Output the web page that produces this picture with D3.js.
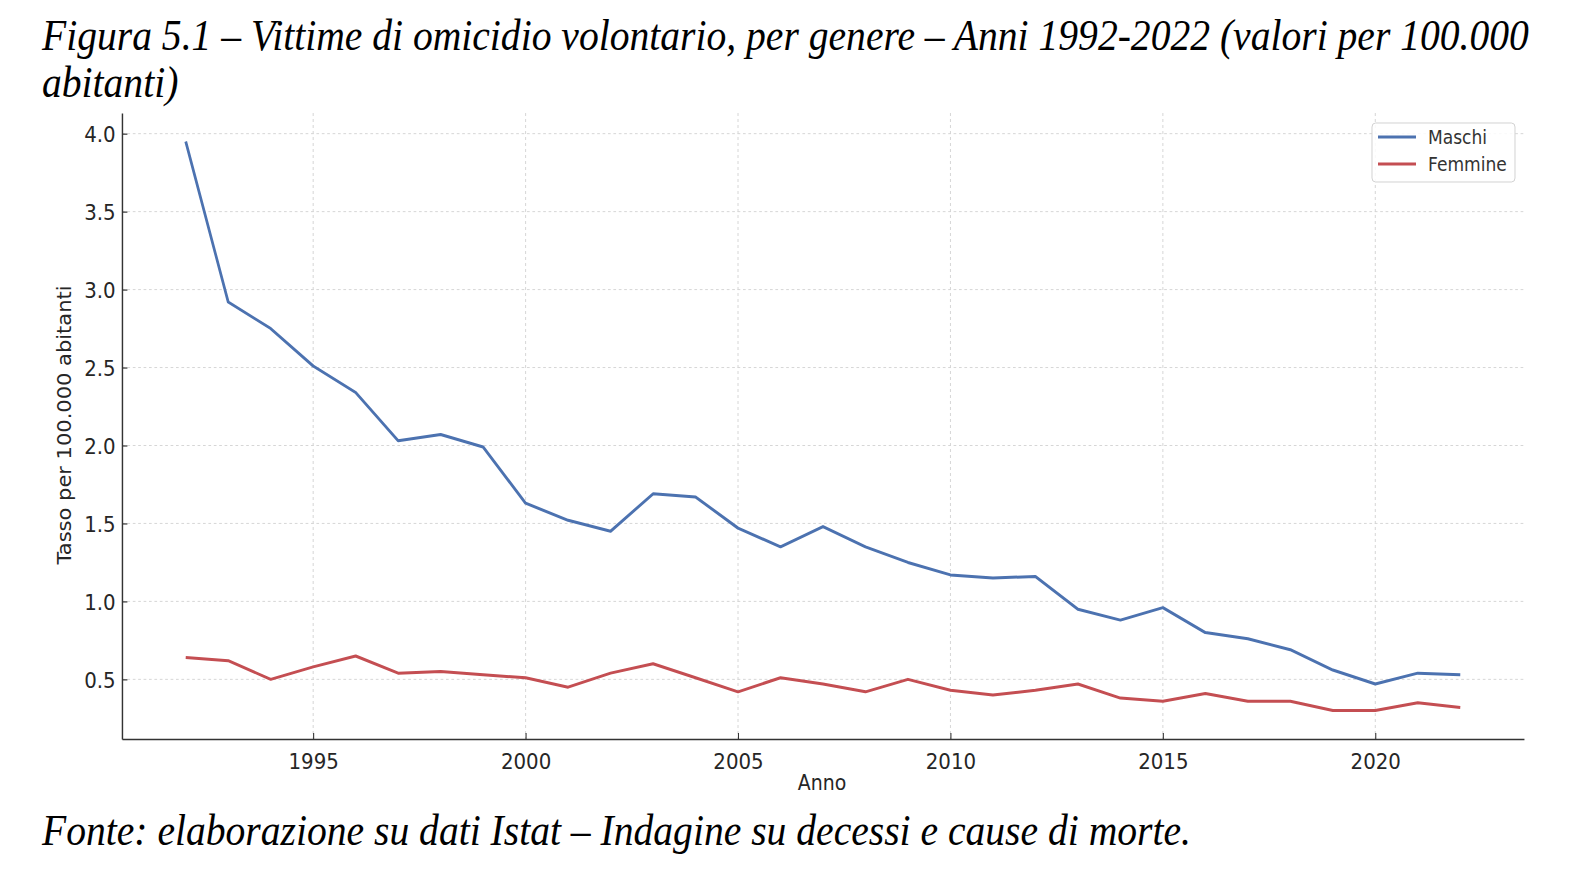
<!DOCTYPE html>
<html>
<head>
<meta charset="utf-8">
<script src="https://cdn.jsdelivr.net/npm/d3@7"></script>
<style>
  html, body { margin: 0; padding: 0; background: #fff; }
  svg { display: block; }
</style>
</head>
<body>
<svg id="chart" width="1596" height="886"></svg>
<script>
// ---- data ----
const years = [1992,1993,1994,1995,1996,1997,1998,1999,2000,2001,2002,2003,2004,2005,2006,2007,2008,2009,2010,2011,2012,2013,2014,2015,2016,2017,2018,2019,2020,2021,2022];
const maschi = [3.95,2.92,2.75,2.51,2.34,2.03,2.07,1.99,1.63,1.52,1.45,1.69,1.67,1.47,1.35,1.48,1.35,1.25,1.17,1.15,1.16,0.95,0.88,0.96,0.80,0.76,0.69,0.56,0.47,0.54,0.53];
const femmine = [0.64,0.62,0.50,0.58,0.65,0.54,0.55,0.53,0.51,0.45,0.54,0.60,0.51,0.42,0.51,0.47,0.42,0.50,0.43,0.40,0.43,0.47,0.38,0.36,0.41,0.36,0.36,0.30,0.30,0.35,0.32];
const seriesNames = ["Maschi", "Femmine"];
const xTicks = [1995, 2000, 2005, 2010, 2015, 2020];
const yTicks = [0.5, 1.0, 1.5, 2.0, 2.5, 3.0, 3.5, 4.0];
const titleLines = ["Figura 5.1 – Vittime di omicidio volontario, per genere – Anni 1992-2022 (valori per 100.000", "abitanti)"];
const sourceText = "Fonte: elaborazione su dati Istat – Indagine su decessi e cause di morte.";

(function () {
// ---- layout ----
const SX = 0.9; // horizontal squeeze of the original picture
const vx = px => px / SX;
const colors = ["#4C72B0", "#C44E52"];
const svg = d3.select("#chart");
const root = svg.append("g").attr("transform", `scale(${SX},1)`);

const pLeft = vx(122), pRight = vx(1524), pTop = 113, pBottom = 739;
const x = d3.scaleLinear().domain([1990.5, 2023.5]).range([pLeft, pRight]);
const y = d3.scaleLinear().domain([0.1175, 4.1325]).range([pBottom, pTop]);

// grid
const grid = root.append("g");
grid.selectAll("line.h").data(yTicks).join("line")
  .attr("x1", pLeft).attr("x2", pRight)
  .attr("y1", d => y(d)).attr("y2", d => y(d))
  .attr("stroke", "#d4d4d4").attr("stroke-width", 1).attr("stroke-dasharray", "3,3");
grid.selectAll("line.v").data(xTicks).join("line")
  .attr("x1", d => x(d)).attr("x2", d => x(d))
  .attr("y1", pTop).attr("y2", pBottom)
  .attr("stroke", "#d4d4d4").attr("stroke-width", 1).attr("stroke-dasharray", "3,3");

// axes
const axisColor = "#333";
const xAxis = root.append("g").attr("transform", `translate(0,${pBottom})`)
  .call(d3.axisBottom(x).tickValues(xTicks).tickFormat(d3.format("d")).tickSizeInner(-6).tickSizeOuter(0).tickPadding(14));
const yAxis = root.append("g").attr("transform", `translate(${pLeft},0)`)
  .call(d3.axisLeft(y).tickValues(yTicks).tickFormat(d3.format(".1f")).tickSizeInner(-6).tickSizeOuter(0).tickPadding(7));
[xAxis, yAxis].forEach(a => {
  a.select(".domain").attr("stroke", axisColor).attr("stroke-width", 1.6);
  a.selectAll(".tick line").attr("stroke", axisColor).attr("stroke-width", 1.2);
  a.selectAll(".tick text").attr("fill", "#262626")
    .style("font-family", "'DejaVu Sans', sans-serif").style("font-size", "22px");
});
yAxis.selectAll(".tick text").attr("dy", "0.36em");

// axis labels
root.append("text").attr("x", vx(822)).attr("y", 790).attr("text-anchor", "middle")
  .style("font-family", "'DejaVu Sans', sans-serif").style("font-size", "21px").attr("fill", "#262626")
  .text("Anno");
root.append("text").attr("transform", `translate(${vx(71)},${(pTop + pBottom) / 2 - 1}) rotate(-90)`)
  .attr("text-anchor", "middle")
  .style("font-family", "'DejaVu Sans', sans-serif").style("font-size", "21px").attr("fill", "#262626")
  .text("Tasso per 100.000 abitanti");

// lines
const lineGen = d3.line().x(d => x(d[0])).y(d => y(d[1]));
[maschi, femmine].forEach((vals, i) => {
  root.append("path")
    .datum(years.map((yr, j) => [yr, vals[j]]))
    .attr("d", lineGen)
    .attr("fill", "none").attr("stroke", colors[i]).attr("stroke-width", 3)
    .attr("stroke-linejoin", "round").attr("stroke-linecap", "butt");
});

// legend
const lg = root.append("g");
lg.append("rect").attr("x", vx(1372)).attr("y", 123).attr("width", vx(1515) - vx(1372)).attr("height", 59)
  .attr("rx", 4).attr("fill", "#fff").attr("fill-opacity", 0.85).attr("stroke", "#d0d0d0").attr("stroke-width", 1);
seriesNames.forEach((name, i) => {
  const yy = 137 + i * 27;
  lg.append("line").attr("x1", vx(1378)).attr("x2", vx(1416)).attr("y1", yy).attr("y2", yy)
    .attr("stroke", colors[i]).attr("stroke-width", 3);
  lg.append("text").attr("x", vx(1428)).attr("y", yy + 7)
    .style("font-family", "'DejaVu Sans', sans-serif").style("font-size", "19px").attr("fill", "#333")
    .text(name);
});

// title & source
titleLines.forEach((t, i) => {
  root.append("text").attr("x", vx(42)).attr("y", 50 + i * 47)
    .style("font-family", "'Liberation Serif', 'Times New Roman', serif").style("font-style", "italic")
    .style("font-size", "44px").attr("fill", "#000").text(t);
});
root.append("text").attr("x", vx(42)).attr("y", 845)
  .style("font-family", "'Liberation Serif', 'Times New Roman', serif").style("font-style", "italic")
  .style("font-size", "44px").attr("fill", "#000").text(sourceText);
})();
</script>
</body>
</html>
